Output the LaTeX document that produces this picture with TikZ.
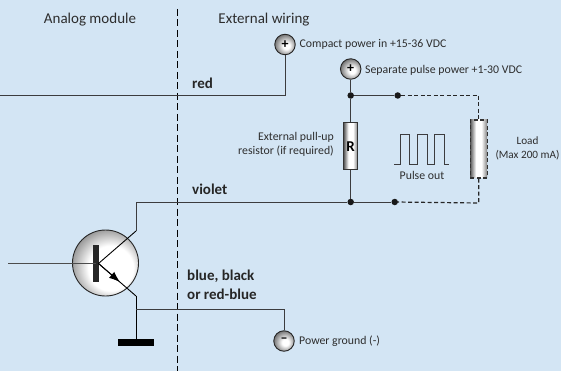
\documentclass[tikz,border=0pt]{standalone}
\usepackage{fontspec}
\setmainfont{Carlito}
\usetikzlibrary{arrows.meta}
\definecolor{panelblue}{RGB}{211,229,244}
\definecolor{wiregray}{RGB}{60,60,62}
\definecolor{textgray}{RGB}{45,45,45}
\pgfdeclareradialshading{knob}{\pgfpoint{4bp}{-4bp}}{color(0bp)=(white); color(8bp)=(white); color(24bp)=(black!45); color(33bp)=(black!70); color(50bp)=(black!70)}
\pgfdeclareradialshading{bulb}{\pgfpoint{6bp}{-6bp}}{color(0bp)=(white); color(17bp)=(white); color(33bp)=(black!55); color(50bp)=(black!55)}
\pgfdeclarehorizontalshading{barrel}{100bp}{color(0bp)=(black!65); color(25bp)=(black!65); color(42bp)=(white); color(58bp)=(white); color(75bp)=(black!50); color(100bp)=(black!50)}
\tikzset{
  wire/.style={line width=1pt, wiregray},
  loadwire/.style={wire, line width=1.2pt, black!85, dash pattern=on 4pt off 2.5pt},
  label/.style={font=\fontsize{11.8}{14.5}\selectfont, text=textgray, inner sep=0pt},
  heading/.style={font=\fontsize{15}{17}\selectfont, text=textgray, inner sep=0pt},
  colour/.style={font=\fontsize{15}{19}\selectfont\bfseries, text=black!85, inner sep=0pt, align=left},
  terminal/.style={circle, draw=black!85, line width=.9pt, minimum size=20.5pt, inner sep=0pt, shading=knob, font=\fontsize{14}{14}\selectfont\bfseries},
  joint/.style={circle, fill=black!90, minimum size=6.5pt, inner sep=0pt},
  part/.style={rectangle, draw=black!80, line width=1pt, inner sep=0pt}
}
\begin{document}
\begin{tikzpicture}[x=1pt, y=-1pt]
  \fill [panelblue] (0,0) rectangle (561,371);
  \useasboundingbox (0,0) rectangle (561,371);

  % separation of module and wiring
  \coordinate (sepTop) at (177.5,9);
  \coordinate (sepEnd) at (177.5,371);

  % transistor
  \node [circle, draw=black!85, line width=.9pt, minimum size=66pt, inner sep=0pt, shading=bulb] (tr) at (105.5,263) {};
  \node [rectangle, fill=black!85, minimum width=6pt, minimum height=37pt, inner sep=0pt] (base) at (95.7,263.5) {};
  \coordinate (baseIn) at (8,263.5);
  \coordinate (tip) at (98.5,263.5);
  \coordinate (col) at (136,231);
  \coordinate (colUp) at (136,202);
  \coordinate (emi) at (136,296);
  \node [rectangle, fill=black, minimum width=36pt, minimum height=7pt, inner sep=0pt] (gnd) at (136,342.2) {};

  % terminals
  \node [terminal] (compact) at (285,44.5) {+};
  \node [terminal] (pulse) at (350.7,69) {+};
  \node [terminal] (ground) at (284,341) {\raisebox{1pt}{--}};

  % resistor and load
  \node [part, minimum width=14pt, minimum height=47pt, shading=barrel] (res) at (350.7,146.5) {\fontsize{15}{15}\selectfont\bfseries R};
  \node [part, line width=1.3pt, dash pattern=on 4pt off 2.5pt, minimum width=17pt, minimum height=58pt, shading=barrel] (load) at (478.7,149) {};

  % joints
  \node [joint] (topJoint) at (350.7,95.5) {};
  \node [joint] (topEnd) at (397.7,95.5) {};
  \node [joint] (lowJoint) at (350.7,202) {};
  \node [joint] (lowEnd) at (394.7,202) {};
  \coordinate (redIn) at (0,95.5);
  \coordinate (redCorner) at (285,95.5);
  \coordinate (gndWire) at (136,309.5);
  \coordinate (gndCorner) at (284,309.5);
  \coordinate (cornerA) at (478.7,95.5);
  \coordinate (cornerB) at (478.7,203);

  \draw [line width=.8pt, black, dash pattern=on 7pt off 3.5pt] (sepTop) -- (sepEnd);

  \draw [wire] (redIn) -- (redCorner) -- (compact.south);
  \draw [wire] (pulse.south) -- (topJoint) -- (res.north);
  \draw [wire] (topJoint) -- (topEnd);
  \draw [wire] (res.south) -- (lowJoint);
  \draw [wire] (col) -- (colUp) -- (lowJoint) -- (lowEnd);
  \draw [loadwire] (topEnd) -- (cornerA) -- (load.north);
  \draw [loadwire] (load.south) -- (cornerB) -- (lowEnd);
  \draw [wire, line width=1.2pt, black!70] (baseIn) -- (base.center);
  \draw [line width=.9pt, black] (tip) -- (col);
  \draw [line width=.9pt, black] (tip) -- (emi);
  \draw [line width=.9pt, black, -{Latex[length=11pt,width=8pt]}] (tip) -- (120,282.1);
  \draw [line width=.9pt, black] (emi) -- (gnd.north);
  \draw [wire] (gndWire) -- (gndCorner) -- (ground.north);

  % pulse symbol
  \coordinate (pStart) at (394,164);
  \draw [wire, line width=.7pt] (pStart) -- ++(6,0) |- ++(9,-30) |- ++(8,30) |- ++(10,-30) |- ++(7,30) |- ++(10,-30) |- ++(5,30);

  % texts
  \node [heading] (modTxt) at (90,20) {Analog module};
  \node [heading] (extTxt) at (264,20) {External wiring};
  \node [colour, anchor=west] (redTxt) at (192,83) {red};
  \node [colour, anchor=west] (violetTxt) at (192,189) {violet};
  \node [colour, anchor=north west] (blueTxt) at (187,270) {blue, black\\or red-blue};
  \node [label, anchor=west] (compactTxt) at (299.5,44.5) {Compact power in +15-36 VDC};
  \node [label, anchor=west] (pulseTxt) at (365,70) {Separate pulse power +1-30 VDC};
  \node [label, anchor=west] (groundTxt) at (299,341) {Power ground (-)};
  \node [label, align=right, anchor=east] (resTxt) at (334,144.5) {External pull-up\\resistor (if required)};
  \node [label] (outTxt) at (422,175) {Pulse out};
  \node [label, align=center, font=\fontsize{11.2}{14}\selectfont] (loadTxt) at (527.5,148) {Load\\(Max 200 mA)};
\end{tikzpicture}
\end{document}
